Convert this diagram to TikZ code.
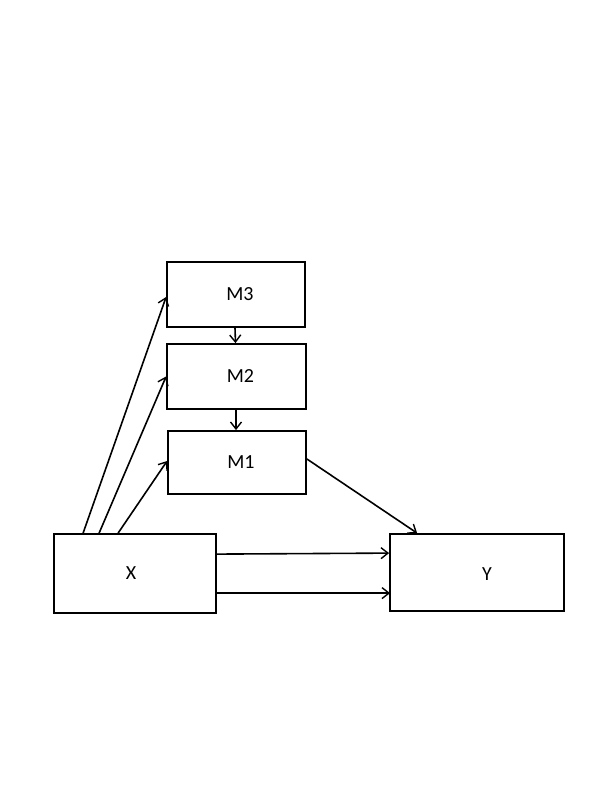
\documentclass[tikz,border=0pt]{standalone}
\usepackage{fontspec}
\setmainfont{Carlito}
\usetikzlibrary{arrows.meta}
\begin{document}
\begin{tikzpicture}[x=1pt,y=-1pt,
  box/.style={draw, line width=1.8pt, inner sep=0pt, rectangle},
  lbl/.style={font=\fontsize{20}{24}\selectfont},
  conn/.style={line width=1.6pt, -{Straight Barb[length=7pt,width=11pt,line width=1.4pt]}}]
\useasboundingbox (0,0) rectangle (600,800);
\fill[white] (0,0) rectangle (600,800);
\node[box, minimum width=138pt, minimum height=65pt, label={[lbl,xshift=4pt]center:M3}] (m3) at (236,294.5) {};
\node[box, minimum width=139pt, minimum height=65pt, label={[lbl,xshift=4pt]center:M2}] (m2) at (236.5,376.5) {};
\node[box, minimum width=138pt, minimum height=63pt, label={[lbl,xshift=4pt]center:M1}] (m1) at (237,462.5) {};
\node[box, minimum width=162pt, minimum height=79pt, label={[lbl,xshift=-4pt]center:X}] (x) at (135,573.5) {};
\node[box, minimum width=174pt, minimum height=77pt, label={[lbl,xshift=10pt,yshift=-2pt]center:Y}] (y) at (477,572.5) {};
\draw[conn] ([xshift=-1pt]m3.south) -- ([xshift=-1pt]m2.north);
\draw[conn] ([xshift=-0.5pt]m2.south) -- ([xshift=-1pt]m1.north);
\draw[conn] ([xshift=30pt]x.north west) -- ([yshift=-2.5pt]m3.west);
\draw[conn] ([xshift=46pt]x.north west) -- ([yshift=0pt]m2.west);
\draw[conn] ([xshift=65pt]x.north west) -- ([yshift=1.5pt]m1.west);
\draw[conn] ([yshift=3.5pt]m1.east) -- ([xshift=28pt]y.north west);
\draw[conn] ([yshift=-21pt]x.north east) -- ([yshift=-20pt]y.north west);
\draw[conn] ([yshift=-60pt]x.north east) -- ([xshift=1pt,yshift=-60pt]y.north west);
\end{tikzpicture}
\end{document}
